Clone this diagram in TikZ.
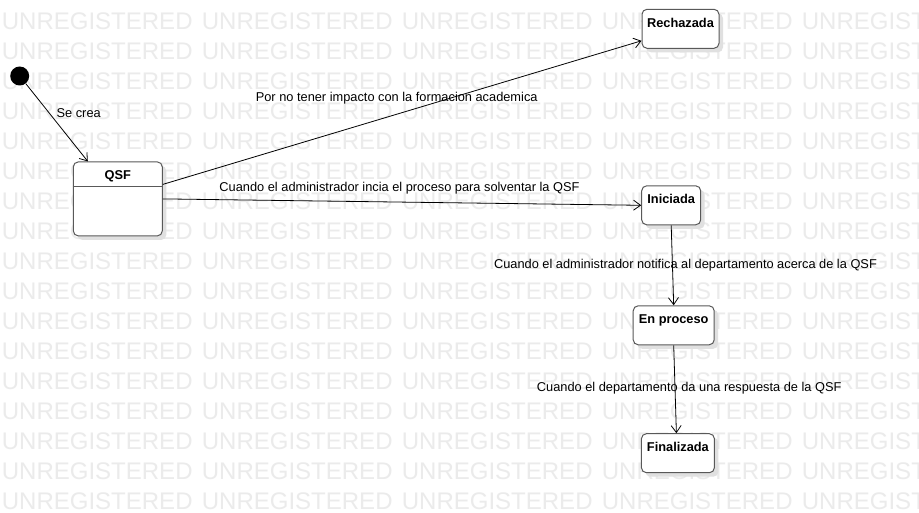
\documentclass[tikz,border=0pt]{standalone}
\usepackage{fontspec}
\setmainfont{Liberation Sans}
\usetikzlibrary{arrows.meta,shadows}

\begin{document}
\begin{tikzpicture}[x=1pt,y=-1pt,
    wm/.style={anchor=west,inner sep=0pt,text=black!8,font=\fontsize{24}{28}\selectfont},
    state/.style={draw=black!65,line width=1pt,rounded corners=5pt,fill=white,
      font=\bfseries\fontsize{12.8}{15}\selectfont,inner xsep=0pt,inner ysep=4pt,
      text height=14pt,text depth=17pt,
      drop shadow={shadow xshift=4pt,shadow yshift=-4pt,fill=black!12,opacity=1}},
    trans/.style={draw,line width=0.8pt,-{Straight Barb[length=7pt,width=10pt]}},
    lbl/.style={anchor=base,inner sep=0pt,font=\fontsize{12.8}{15}\selectfont}]
  \useasboundingbox[fill=white] (0,0) rectangle (919,513);
  % watermark
  \foreach \row in {0,...,16}{
    \foreach \col in {0,...,4}{
      \node[wm] (wm-\row-\col) at (1.7+200*\col, 21+30*\row) {UNREGISTERED};
    }
  }
  \def \States{
    rech/680.5/28.8/77/Rechazada,
    ini/671.2/205.3/59/Iniciada,
    proc/673.7/325.3/81/En proceso,
    fin/677.9/453.2/73/Finalizada}
  \foreach \id / \x / \y / \w / \txt in \States{
    \node[state,minimum width=\w*1pt] (\id) at (\x, \y) {\txt};
  }
  \node[state,minimum width=89pt,text depth=52pt] (qsf) at (117.8, 198.9) {QSF};
  \draw[draw=black!65,line width=1pt] ([yshift=-25pt]qsf.north west) -- ([yshift=-25pt]qsf.north east);
  \node[circle,fill=black,minimum size=19pt,inner sep=0pt] (init) at (19.7, 76) {};
  % transitions
  \path[trans] (init) -- ([xshift=15pt]qsf.north west);
  \path[trans] ([yshift=-23pt]qsf.north east) -- ([yshift=8pt]rech.south west);
  \path[trans] (qsf.east) -- (ini.west);
  \path[trans] (ini.south) -- (proc.north);
  \path[trans] (proc.south) -- ([xshift=-1.5pt]fin.north);
  \node[lbl] (l-crea) at (78.7, 117.3) {Se crea};
  \node[lbl] (l-rech) at (396.7, 101.7) {Por no tener impacto con la formacion academica};
  \node[lbl] (l-ini) at (399.5, 192) {Cuando el administrador incia el proceso para solventar la QSF};
  \node[lbl] (l-proc) at (685.5, 268.3) {Cuando el administrador notifica al departamento acerca de la QSF};
  \node[lbl] (l-fin) at (689.2, 391.7) {Cuando el departamento da una respuesta de la QSF};
\end{tikzpicture}
\end{document}
